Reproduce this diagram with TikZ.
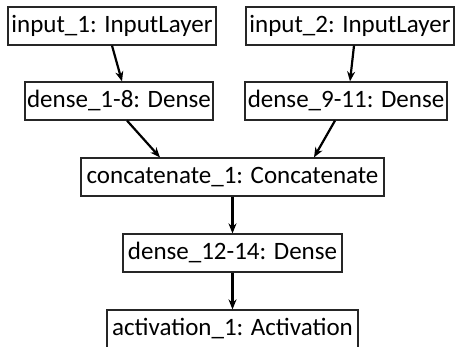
\documentclass[tikz,border=0pt]{standalone}
\usepackage{fontspec}
\setmainfont{Carlito}
\usetikzlibrary{calc,arrows.meta}
\begin{document}
\begin{tikzpicture}[x=1pt,y=-1pt,
  layer/.style={draw=black!85, line width=1.2pt, inner sep=0pt, minimum height=38pt,
    font=\fontsize{25}{30}\selectfont, anchor=center},
  conn/.style={line width=2.2pt, -{Stealth[length=10pt,width=8pt]}}]
\useasboundingbox (0,0) rectangle (458,347);
\node[layer, minimum width=208pt] (in1) at (112,26) {input\_1: InputLayer};
\node[layer, minimum width=208pt] (in2) at (350,26) {input\_2: InputLayer};
\node[layer, minimum width=188pt] (d1) at (119,101) {dense\_1-8: Dense};
\node[layer, minimum width=202pt] (d2) at (346,101) {dense\_9-11: Dense};
\node[layer, minimum width=303pt] (cc) at (232.5,177) {concatenate\_1: Concatenate};
\node[layer, minimum width=219pt] (d3) at (232.5,253) {dense\_12-14: Dense};
\node[layer, minimum width=251pt] (act) at (232.5,329) {activation\_1: Activation};
\draw[conn] (in1.south) -- ($(d1.north)+(3,0)$);
\draw[conn] ($(in2.south)+(4,0)$) -- ($(d2.north)+(4,0)$);
\draw[conn] ($(d1.south)+(8,0)$) -- ($(cc.north)+(-72.5,0)$);
\draw[conn] ($(d2.south)+(-11,0)$) -- ($(cc.north)+(81.5,0)$);
\draw[conn] (cc.south) -- (d3.north);
\draw[conn] (d3.south) -- (act.north);
\end{tikzpicture}
\end{document}
